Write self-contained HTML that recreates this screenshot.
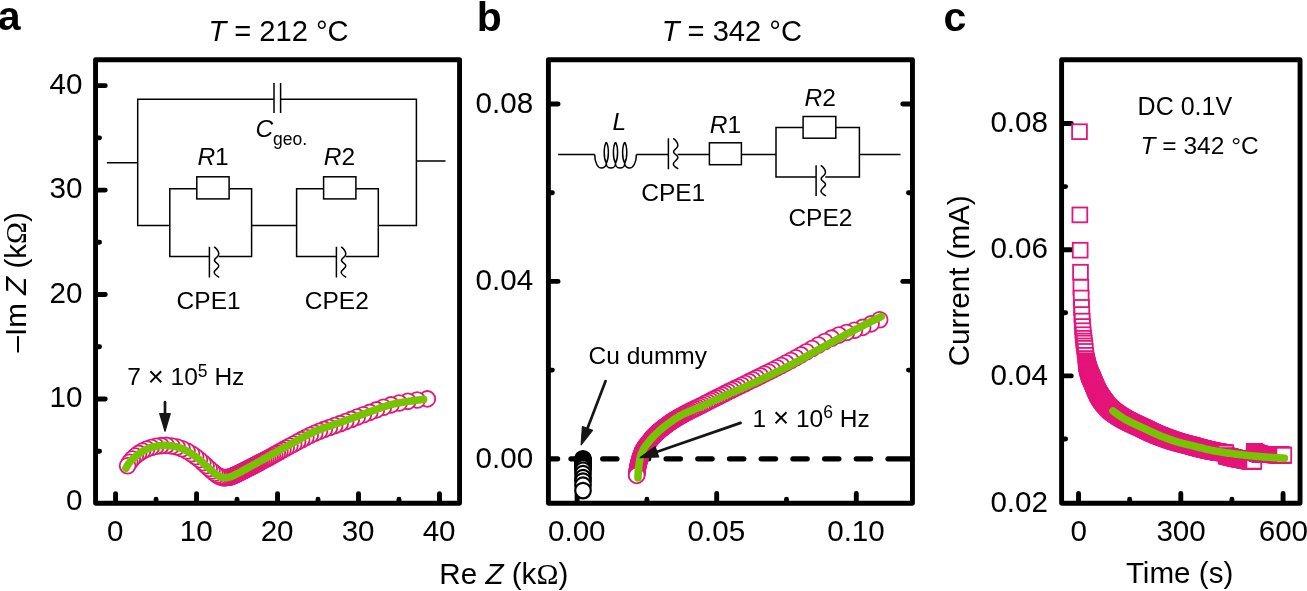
<!DOCTYPE html>
<html lang="en"><head><meta charset="utf-8"><title>Impedance spectra and DC polarisation</title>
<style>html,body{margin:0;padding:0;background:#fff}body{width:1307px;height:591px;overflow:hidden}svg{display:block;will-change:transform}</style>
</head><body>
<svg width="1307" height="591" viewBox="0 0 1307 591" font-family='"Liberation Sans", sans-serif' fill="#000">
<rect width="1307" height="591" fill="#fff"/>
<g id="panel-a">
<rect x="95.56" y="59.7" width="364.01" height="443.6" fill="none" stroke="#000" stroke-width="4.9" stroke-linejoin="round"/>
<path d="M115.57,502.7V493.6M196.55,502.7V493.6M277.53,502.7V493.6M358.51,502.7V493.6M439.49,502.7V493.6" fill="none" stroke="#000" stroke-width="4.9" stroke-linecap="round"/>
<path d="M156.06,502.7V499.3M237.04,502.7V499.3M318.02,502.7V499.3M399,502.7V499.3" fill="none" stroke="#000" stroke-width="4.9" stroke-linecap="round"/>
<path d="M96.16,398.96H105.26M96.16,294.52H105.26M96.16,190.08H105.26M96.16,85.64H105.26" fill="none" stroke="#000" stroke-width="4.9" stroke-linecap="round"/>
<path d="M96.16,451.18H99.56M96.16,346.74H99.56M96.16,242.3H99.56M96.16,137.86H99.56" fill="none" stroke="#000" stroke-width="4.9" stroke-linecap="round"/>
<g fill="#fff" stroke="#e5157b" stroke-width="1.8">
<circle cx="427.3" cy="398.9" r="7.9"/>
<circle cx="417.2" cy="399.99" r="7.9"/>
<circle cx="407.84" cy="401.34" r="7.9"/>
<circle cx="399.13" cy="402.95" r="7.9"/>
<circle cx="390.98" cy="404.88" r="7.9"/>
<circle cx="383.43" cy="407.29" r="7.9"/>
<circle cx="376.4" cy="409.9" r="7.9"/>
<circle cx="369.74" cy="412.39" r="7.9"/>
<circle cx="363.37" cy="414.77" r="7.9"/>
<circle cx="357.24" cy="417.12" r="7.9"/>
<circle cx="351.35" cy="419.41" r="7.9"/>
<circle cx="345.66" cy="421.6" r="7.9"/>
<circle cx="340.13" cy="423.66" r="7.9"/>
<circle cx="334.71" cy="425.61" r="7.9"/>
<circle cx="329.43" cy="427.5" r="7.9"/>
<circle cx="324.32" cy="429.38" r="7.9"/>
<circle cx="319.42" cy="431.28" r="7.9"/>
<circle cx="314.72" cy="433.24" r="7.9"/>
<circle cx="310.2" cy="435.3" r="7.9"/>
<circle cx="305.85" cy="437.47" r="7.9"/>
<circle cx="301.65" cy="439.67" r="7.9"/>
<circle cx="297.6" cy="441.87" r="7.9"/>
<circle cx="293.67" cy="444.02" r="7.9"/>
<circle cx="289.84" cy="446.08" r="7.9"/>
<circle cx="286.16" cy="448.08" r="7.9"/>
<circle cx="282.87" cy="449.89" r="7.9"/>
<circle cx="279.93" cy="451.52" r="7.9"/>
<circle cx="277.3" cy="452.99" r="7.9"/>
<circle cx="274.78" cy="454.39" r="7.9"/>
<circle cx="272.38" cy="455.72" r="7.9"/>
<circle cx="270.08" cy="456.99" r="7.9"/>
<circle cx="267.89" cy="458.18" r="7.9"/>
<circle cx="265.79" cy="459.31" r="7.9"/>
<circle cx="263.79" cy="460.38" r="7.9"/>
<circle cx="261.88" cy="461.39" r="7.9"/>
<circle cx="260.06" cy="462.36" r="7.9"/>
<circle cx="258.36" cy="463.25" r="7.9"/>
<circle cx="256.82" cy="464.06" r="7.9"/>
<circle cx="255.42" cy="464.79" r="7.9"/>
<circle cx="254.14" cy="465.46" r="7.9"/>
<circle cx="252.98" cy="466.06" r="7.9"/>
<circle cx="251.92" cy="466.6" r="7.9"/>
<circle cx="250.93" cy="467.11" r="7.9"/>
<circle cx="249.94" cy="467.61" r="7.9"/>
<circle cx="248.95" cy="468.12" r="7.9"/>
<circle cx="247.96" cy="468.62" r="7.9"/>
<circle cx="246.97" cy="469.12" r="7.9"/>
<circle cx="245.98" cy="469.63" r="7.9"/>
<circle cx="245" cy="470.14" r="7.9"/>
<circle cx="244.01" cy="470.64" r="7.9"/>
<circle cx="243.02" cy="471.15" r="7.9"/>
<circle cx="242.03" cy="471.65" r="7.9"/>
<circle cx="241.04" cy="472.15" r="7.9"/>
<circle cx="240.04" cy="472.64" r="7.9"/>
<circle cx="239.04" cy="473.12" r="7.9"/>
<circle cx="238.03" cy="473.59" r="7.9"/>
<circle cx="237.02" cy="474.05" r="7.9"/>
<circle cx="236.01" cy="474.5" r="7.9"/>
<circle cx="234.99" cy="474.95" r="7.9"/>
<circle cx="233.99" cy="475.42" r="7.9"/>
<circle cx="232.98" cy="475.89" r="7.9"/>
<circle cx="231.96" cy="476.32" r="7.9"/>
<circle cx="230.92" cy="476.71" r="7.9"/>
<circle cx="229.85" cy="477.03" r="7.9"/>
<circle cx="228.76" cy="477.24" r="7.9"/>
<circle cx="227.66" cy="477.4" r="7.9"/>
<circle cx="226.56" cy="477.54" r="7.9"/>
<circle cx="225.45" cy="477.64" r="7.9"/>
<circle cx="224.35" cy="477.69" r="7.9"/>
<circle cx="223.24" cy="477.64" r="7.9"/>
<circle cx="222.15" cy="477.4" r="7.9"/>
<circle cx="220.79" cy="476.93" r="7.9"/>
<circle cx="219.03" cy="476.19" r="7.9"/>
<circle cx="216.96" cy="474.96" r="7.9"/>
<circle cx="214.64" cy="473.19" r="7.9"/>
<circle cx="211.97" cy="471.04" r="7.9"/>
<circle cx="209.17" cy="468.49" r="7.9"/>
<circle cx="206.08" cy="465.67" r="7.9"/>
<circle cx="202.85" cy="462.67" r="7.9"/>
<circle cx="199.41" cy="459.63" r="7.9"/>
<circle cx="195.63" cy="456.66" r="7.9"/>
<circle cx="191.53" cy="453.75" r="7.9"/>
<circle cx="186.99" cy="451.07" r="7.9"/>
<circle cx="182.16" cy="448.74" r="7.9"/>
<circle cx="177.05" cy="447" r="7.9"/>
<circle cx="171.75" cy="445.93" r="7.9"/>
<circle cx="166.33" cy="445.41" r="7.9"/>
<circle cx="161.04" cy="445.66" r="7.9"/>
<circle cx="155.97" cy="446.31" r="7.9"/>
<circle cx="151.17" cy="447.46" r="7.9"/>
<circle cx="146.66" cy="449.02" r="7.9"/>
<circle cx="142.49" cy="451.03" r="7.9"/>
<circle cx="138.69" cy="453.41" r="7.9"/>
<circle cx="135.28" cy="456.11" r="7.9"/>
<circle cx="132.23" cy="459.06" r="7.9"/>
<circle cx="129.67" cy="462.31" r="7.9"/>
<circle cx="127.6" cy="465.8" r="7.9"/>
</g>
<path d="M125.9,468.2 L126.29,467.44 L126.69,466.7 L127.11,465.97 L127.55,465.25 L128,464.54 L128.47,463.86 L128.96,463.18 L129.45,462.53 L129.96,461.89 L130.49,461.26 L131.04,460.65 L131.62,460.06 L132.22,459.49 L132.84,458.92 L133.47,458.36 L134.12,457.82 L134.76,457.28 L135.41,456.74 L136.05,456.21 L136.69,455.68 L137.33,455.14 L137.98,454.61 L138.64,454.09 L139.3,453.58 L139.97,453.08 L140.65,452.6 L141.34,452.14 L142.04,451.7 L142.75,451.28 L143.47,450.85 L144.2,450.44 L144.93,450.03 L145.68,449.63 L146.43,449.25 L147.19,448.89 L147.96,448.55 L148.73,448.24 L149.5,447.96 L150.28,447.71 L151.07,447.48 L151.87,447.25 L152.68,447.03 L153.49,446.83 L154.31,446.64 L155.13,446.46 L155.96,446.31 L156.78,446.17 L157.6,446.05 L158.43,445.95 L159.25,445.85 L160.08,445.76 L160.91,445.67 L161.74,445.59 L162.58,445.52 L163.41,445.46 L164.24,445.42 L165.07,445.4 L165.91,445.4 L166.74,445.43 L167.57,445.47 L168.41,445.54 L169.24,445.62 L170.07,445.71 L170.9,445.81 L171.73,445.92 L172.55,446.04 L173.37,446.15 L174.18,446.3 L175,446.47 L175.81,446.66 L176.62,446.88 L177.43,447.11 L178.23,447.36 L179.03,447.62 L179.82,447.89 L180.6,448.16 L181.38,448.44 L182.15,448.74 L182.92,449.05 L183.68,449.39 L184.43,449.75 L185.19,450.12 L185.93,450.5 L186.68,450.9 L187.41,451.3 L188.14,451.72 L188.87,452.13 L189.58,452.55 L190.29,452.98 L191,453.41 L191.69,453.86 L192.39,454.32 L193.08,454.79 L193.76,455.27 L194.44,455.76 L195.11,456.26 L195.78,456.76 L196.44,457.27 L197.1,457.79 L197.76,458.31 L198.41,458.83 L199.06,459.35 L199.7,459.87 L200.33,460.41 L200.96,460.96 L201.58,461.51 L202.2,462.07 L202.81,462.63 L203.42,463.2 L204.03,463.77 L204.65,464.34 L205.26,464.91 L205.87,465.48 L206.49,466.04 L207.11,466.59 L207.72,467.15 L208.34,467.72 L208.95,468.29 L209.56,468.86 L210.18,469.42 L210.79,469.99 L211.41,470.55 L212.04,471.1 L212.67,471.63 L213.31,472.16 L213.96,472.67 L214.62,473.18 L215.29,473.71 L215.96,474.23 L216.64,474.73 L217.33,475.22 L218.04,475.66 L218.76,476.06 L219.49,476.4 L220.25,476.71 L221.04,477.03 L221.85,477.31 L222.66,477.54 L223.48,477.67 L224.3,477.7 L225.13,477.66 L225.97,477.6 L226.81,477.51 L227.64,477.4 L228.47,477.28 L229.27,477.15 L230.06,476.96 L230.84,476.71 L231.62,476.4 L232.38,476.06 L233.15,475.69 L233.9,475.3 L234.66,474.91 L235.41,474.52 L236.16,474.16 L236.91,473.8 L237.66,473.44 L238.4,473.06 L239.14,472.68 L239.88,472.29 L240.61,471.9 L241.35,471.5 L242.08,471.1 L242.81,470.7 L243.54,470.29 L244.27,469.89 L244.99,469.48 L245.72,469.07 L246.45,468.67 L247.18,468.27 L247.91,467.87 L248.65,467.47 L249.38,467.07 L250.11,466.67 L250.84,466.27 L251.57,465.87 L252.3,465.47 L253.03,465.07 L253.76,464.66 L254.49,464.26 L255.22,463.86 L255.94,463.45 L256.67,463.05 L257.4,462.64 L258.13,462.24 L258.86,461.83 L259.59,461.43 L260.31,461.02 L261.04,460.62 L261.77,460.21 L262.5,459.81 L263.23,459.4 L263.95,459 L264.68,458.59 L265.41,458.19 L266.14,457.78 L266.87,457.38 L267.6,456.97 L268.32,456.57 L269.05,456.16 L269.78,455.75 L270.5,455.35 L271.23,454.94 L271.96,454.53 L272.68,454.12 L273.41,453.72 L274.14,453.31 L274.86,452.9 L275.59,452.49 L276.32,452.08 L277.04,451.67 L277.77,451.27 L278.5,450.86 L279.22,450.45 L279.95,450.04 L280.68,449.64 L281.41,449.23 L282.13,448.83 L282.86,448.42 L283.59,448.02 L284.32,447.61 L285.05,447.21 L285.78,446.81 L286.51,446.4 L287.24,446 L287.97,445.6 L288.7,445.21 L289.43,444.81 L290.16,444.41 L290.9,444.01 L291.63,443.61 L292.36,443.21 L293.09,442.81 L293.82,442.4 L294.55,442 L295.28,441.59 L296.01,441.18 L296.74,440.77 L297.47,440.37 L298.2,439.96 L298.93,439.55 L299.66,439.15 L300.39,438.74 L301.13,438.34 L301.86,437.94 L302.59,437.54 L303.33,437.14 L304.06,436.75 L304.8,436.36 L305.54,435.97 L306.28,435.58 L307.02,435.2 L307.76,434.83 L308.5,434.46 L309.25,434.09 L310,433.73 L310.75,433.37 L311.5,433.02 L312.25,432.67 L313,432.33 L313.76,432 L314.52,431.67 L315.28,431.35 L316.05,431.03 L316.82,430.72 L317.59,430.41 L318.36,430.1 L319.13,429.8 L319.91,429.5 L320.68,429.21 L321.46,428.91 L322.24,428.62 L323.02,428.34 L323.8,428.05 L324.59,427.77 L325.37,427.49 L326.16,427.21 L326.95,426.94 L327.74,426.66 L328.52,426.39 L329.31,426.12 L330.1,425.85 L330.9,425.58 L331.69,425.31 L332.48,425.04 L333.27,424.78 L334.06,424.51 L334.85,424.24 L335.65,423.97 L336.44,423.71 L337.23,423.44 L338.02,423.17 L338.81,422.9 L339.6,422.63 L340.39,422.36 L341.18,422.09 L341.97,421.81 L342.76,421.53 L343.54,421.26 L344.33,420.98 L345.11,420.69 L345.89,420.41 L346.68,420.12 L347.46,419.84 L348.24,419.55 L349.03,419.27 L349.81,418.98 L350.59,418.69 L351.37,418.4 L352.15,418.11 L352.94,417.83 L353.72,417.54 L354.5,417.25 L355.28,416.96 L356.06,416.67 L356.84,416.38 L357.63,416.09 L358.41,415.81 L359.19,415.52 L359.97,415.23 L360.76,414.95 L361.54,414.66 L362.32,414.38 L363.11,414.09 L363.89,413.81 L364.67,413.53 L365.46,413.25 L366.24,412.97 L367.03,412.69 L367.81,412.42 L368.6,412.14 L369.39,411.87 L370.17,411.6 L370.96,411.32 L371.75,411.04 L372.53,410.76 L373.32,410.48 L374.11,410.2 L374.89,409.91 L375.68,409.62 L376.46,409.34 L377.25,409.05 L378.04,408.76 L378.82,408.48 L379.61,408.2 L380.4,407.91 L381.19,407.64 L381.98,407.36 L382.77,407.09 L383.56,406.82 L384.35,406.56 L385.14,406.3 L385.93,406.04 L386.73,405.8 L387.52,405.55 L388.32,405.32 L389.12,405.09 L389.92,404.87 L390.72,404.66 L391.52,404.46 L392.33,404.27 L393.13,404.09 L393.94,403.91 L394.75,403.74 L395.57,403.57 L396.38,403.41 L397.2,403.25 L398.02,403.09 L398.84,402.94 L399.66,402.8 L400.48,402.65 L401.3,402.51 L402.13,402.38 L402.95,402.24 L403.78,402.11 L404.6,401.98 L405.43,401.85 L406.25,401.72 L407.08,401.6 L407.91,401.47 L408.73,401.35 L409.55,401.23 L410.38,401.11 L411.2,400.99 L412.03,400.87 L412.85,400.75 L413.68,400.64 L414.5,400.52 L415.33,400.41 L416.15,400.3 L416.98,400.19 L417.81,400.09 L418.63,399.98 L419.46,399.88 L420.29,399.78 L421.12,399.68 L421.94,399.59 L422.77,399.49 L423.6,399.4" fill="none" stroke="#76c400" stroke-width="7.6" stroke-linecap="round" stroke-linejoin="round"/>
<text x="82.4" y="407.36" font-size="29.6" text-anchor="end" >10</text>
<text x="82.4" y="302.92" font-size="29.6" text-anchor="end" >20</text>
<text x="82.4" y="198.48" font-size="29.6" text-anchor="end" >30</text>
<text x="82.4" y="94.04" font-size="29.6" text-anchor="end" >40</text>
<text x="82.4" y="509.7" font-size="29.6" text-anchor="end" >0</text>
<text x="115.17" y="541.3" font-size="29.6" text-anchor="middle" >0</text>
<text x="196.15" y="541.3" font-size="29.6" text-anchor="middle" >10</text>
<text x="277.13" y="541.3" font-size="29.6" text-anchor="middle" >20</text>
<text x="358.11" y="541.3" font-size="29.6" text-anchor="middle" >30</text>
<text x="439.09" y="541.3" font-size="29.6" text-anchor="middle" >40</text>
<text x="-2.2" y="30.4" font-size="41" text-anchor="start" font-weight="bold">a</text>
<text x="278.5" y="41.3" font-size="29.1" text-anchor="middle" ><tspan font-style="italic">T</tspan> = 212 °C</text>
<text transform="translate(25.5,282.3) rotate(-90)" font-size="29.6" text-anchor="middle">–Im <tspan font-style="italic">Z</tspan> (k<tspan font-family='"Liberation Serif", serif'>Ω</tspan>)</text>
<text x="503.8" y="584" font-size="29.6" text-anchor="middle" >Re <tspan font-style="italic">Z</tspan> (k<tspan font-family='"Liberation Serif", serif'>Ω</tspan>)</text>
<path d="M106.9,162.7H137.7M274,99.2H137.7V225.6H169.8M280.6,99.2H416.4V225.6H378.3M416.4,161H445.5M274,83V113M280.6,83V113M196.8,188.8H169.8V256.5H209.4M229.1,188.8H251.6V256.5H218.6M209.4,246.7V277.5M251.6,225.6H296.6M323.6,188.8H296.6V256.5H336.4M355.9,188.8H378.3V256.5H345.6M336.4,246.7V277.5" fill="none" stroke="#000" stroke-width="1.5"/>
<rect x="196.8" y="176.8" width="32.3" height="22.1" fill="none" stroke="#000" stroke-width="1.5"/>
<rect x="323.6" y="176.8" width="32.3" height="22.1" fill="none" stroke="#000" stroke-width="1.5"/>
<path d="M214.1,246.8c2.9,2.2 5.4,5.2 4.4,8.2c-1,3 -4.5,3 -4,5.5c0.5,2.5 4.5,3 4.3,5.5c-0.3,2.5 -4.8,4 -4.6,6.5c0.3,2 2.8,3.5 5,4.8M341.1,246.8c2.9,2.2 5.4,5.2 4.4,8.2c-1,3 -4.5,3 -4,5.5c0.5,2.5 4.5,3 4.3,5.5c-0.3,2.5 -4.8,4 -4.6,6.5c0.3,2 2.8,3.5 5,4.8" fill="none" stroke="#000" stroke-width="1.5"/>
<text x="197.4" y="165" font-size="24.5" text-anchor="start" ><tspan font-style="italic">R</tspan>1</text>
<text x="323.8" y="165" font-size="24.5" text-anchor="start" ><tspan font-style="italic">R</tspan>2</text>
<text x="255.4" y="136.7" font-size="24.5" text-anchor="start" ><tspan font-style="italic">C</tspan><tspan font-size="17.5" dy="8.3">geo.</tspan></text>
<text x="176.6" y="309.1" font-size="24.5" text-anchor="start" >CPE1</text>
<text x="304.8" y="309.1" font-size="24.5" text-anchor="start" >CPE2</text>
<text x="127.3" y="385" font-size="24.5" text-anchor="start" >7 <tspan font-size="27.5" dy="0.8">×</tspan><tspan dy="-0.8"> 10</tspan><tspan font-size="17.5" dy="-8.3">5</tspan><tspan dy="8.3"> Hz</tspan></text>
<path d="M165,402.2V416" fill="none" stroke="#161616" stroke-width="2.7" stroke-linecap="round"/>
<path d="M159.7,413.6H170.3L165,431.3Z" fill="#161616" stroke="#161616" stroke-width="1.2" stroke-linejoin="round"/>
</g>
<g id="panel-b">
<rect x="548.4" y="59.7" width="364.05" height="443.55" fill="none" stroke="#000" stroke-width="4.9" stroke-linejoin="round"/>
<path d="M577.1,502.65V493.55M716.7,502.65V493.55M856.3,502.65V493.55" fill="none" stroke="#000" stroke-width="4.9" stroke-linecap="round"/>
<path d="M646.9,502.65V499.25M786.5,502.65V499.25" fill="none" stroke="#000" stroke-width="4.9" stroke-linecap="round"/>
<path d="M549,281.4H558.1M549,104H558.1" fill="none" stroke="#000" stroke-width="4.9" stroke-linecap="round"/>
<path d="M549,370.1H552.4M549,192.7H552.4" fill="none" stroke="#000" stroke-width="4.9" stroke-linecap="round"/>
<path d="M911.85,281.4H902.75M911.85,104H902.75" fill="none" stroke="#000" stroke-width="4.9" stroke-linecap="round"/>
<path d="M911.85,370.1H908.45M911.85,192.7H908.45" fill="none" stroke="#000" stroke-width="4.9" stroke-linecap="round"/>
<path d="M548.5,458.8H557.6M888,458.8H912" fill="none" stroke="#000" stroke-width="5.3" stroke-linecap="round"/>
<path d="M571,458.8H880" fill="none" stroke="#000" stroke-width="5.3" stroke-linecap="round" stroke-dasharray="14.3 17.4"/>
<g fill="#fff" stroke="#000" stroke-width="2.2">
<circle cx="583" cy="458.9" r="7.8"/>
<circle cx="583" cy="459.65" r="7.8"/>
<circle cx="583" cy="460.4" r="7.8"/>
<circle cx="583" cy="461.15" r="7.8"/>
<circle cx="583" cy="461.9" r="7.8"/>
<circle cx="583" cy="462.65" r="7.8"/>
<circle cx="583" cy="463.4" r="7.8"/>
<circle cx="583" cy="464.15" r="7.8"/>
<circle cx="583" cy="464.9" r="7.8"/>
<circle cx="583" cy="465.65" r="7.8"/>
<circle cx="583" cy="466.4" r="7.8"/>
<circle cx="583" cy="467.15" r="7.8"/>
<circle cx="583" cy="467.9" r="7.8"/>
<circle cx="583" cy="470.3" r="7.8"/>
<circle cx="583" cy="473.7" r="7.8"/>
<circle cx="583" cy="477.7" r="7.8"/>
<circle cx="583" cy="481.1" r="7.8"/>
<circle cx="583" cy="485.2" r="7.8"/>
<circle cx="583" cy="490.6" r="7.8"/>
</g>
<g fill="#fff" stroke="#e5157b" stroke-width="1.8">
<circle cx="879.7" cy="319.8" r="7.9"/>
<circle cx="871.08" cy="323.89" r="7.9"/>
<circle cx="862.68" cy="327.4" r="7.9"/>
<circle cx="854.49" cy="330.21" r="7.9"/>
<circle cx="846.45" cy="332.56" r="7.9"/>
<circle cx="838.75" cy="335.08" r="7.9"/>
<circle cx="831.54" cy="338.16" r="7.9"/>
<circle cx="824.77" cy="341.57" r="7.9"/>
<circle cx="818.34" cy="345.07" r="7.9"/>
<circle cx="812.14" cy="348.45" r="7.9"/>
<circle cx="806.37" cy="351.74" r="7.9"/>
<circle cx="800.98" cy="354.89" r="7.9"/>
<circle cx="795.85" cy="357.82" r="7.9"/>
<circle cx="790.86" cy="360.53" r="7.9"/>
<circle cx="786.05" cy="363.08" r="7.9"/>
<circle cx="781.41" cy="365.49" r="7.9"/>
<circle cx="776.94" cy="367.78" r="7.9"/>
<circle cx="772.64" cy="369.97" r="7.9"/>
<circle cx="768.51" cy="372.05" r="7.9"/>
<circle cx="764.47" cy="374.06" r="7.9"/>
<circle cx="760.5" cy="376.01" r="7.9"/>
<circle cx="756.59" cy="377.91" r="7.9"/>
<circle cx="752.74" cy="379.79" r="7.9"/>
<circle cx="748.97" cy="381.63" r="7.9"/>
<circle cx="745.27" cy="383.45" r="7.9"/>
<circle cx="741.63" cy="385.23" r="7.9"/>
<circle cx="738.1" cy="386.96" r="7.9"/>
<circle cx="734.67" cy="388.64" r="7.9"/>
<circle cx="731.34" cy="390.27" r="7.9"/>
<circle cx="728.11" cy="391.86" r="7.9"/>
<circle cx="724.98" cy="393.41" r="7.9"/>
<circle cx="721.93" cy="394.93" r="7.9"/>
<circle cx="718.95" cy="396.44" r="7.9"/>
<circle cx="716.02" cy="397.92" r="7.9"/>
<circle cx="713.16" cy="399.38" r="7.9"/>
<circle cx="710.36" cy="400.82" r="7.9"/>
<circle cx="707.62" cy="402.22" r="7.9"/>
<circle cx="704.93" cy="403.6" r="7.9"/>
<circle cx="702.28" cy="404.94" r="7.9"/>
<circle cx="699.71" cy="406.24" r="7.9"/>
<circle cx="697.22" cy="407.48" r="7.9"/>
<circle cx="694.81" cy="408.66" r="7.9"/>
<circle cx="692.48" cy="409.79" r="7.9"/>
<circle cx="690.27" cy="410.88" r="7.9"/>
<circle cx="688.24" cy="411.91" r="7.9"/>
<circle cx="686.36" cy="412.88" r="7.9"/>
<circle cx="684.63" cy="413.8" r="7.9"/>
<circle cx="683.04" cy="414.67" r="7.9"/>
<circle cx="681.57" cy="415.48" r="7.9"/>
<circle cx="680.19" cy="416.26" r="7.9"/>
<circle cx="678.89" cy="417" r="7.9"/>
<circle cx="677.65" cy="417.72" r="7.9"/>
<circle cx="676.49" cy="418.42" r="7.9"/>
<circle cx="675.38" cy="419.09" r="7.9"/>
<circle cx="674.34" cy="419.74" r="7.9"/>
<circle cx="673.35" cy="420.37" r="7.9"/>
<circle cx="672.42" cy="420.98" r="7.9"/>
<circle cx="671.53" cy="421.57" r="7.9"/>
<circle cx="670.7" cy="422.14" r="7.9"/>
<circle cx="669.86" cy="422.72" r="7.9"/>
<circle cx="669.04" cy="423.31" r="7.9"/>
<circle cx="668.22" cy="423.9" r="7.9"/>
<circle cx="667.4" cy="424.5" r="7.9"/>
<circle cx="666.59" cy="425.1" r="7.9"/>
<circle cx="665.78" cy="425.71" r="7.9"/>
<circle cx="664.97" cy="426.33" r="7.9"/>
<circle cx="664.17" cy="426.95" r="7.9"/>
<circle cx="663.38" cy="427.58" r="7.9"/>
<circle cx="662.58" cy="428.21" r="7.9"/>
<circle cx="661.79" cy="428.84" r="7.9"/>
<circle cx="661" cy="429.47" r="7.9"/>
<circle cx="660.22" cy="430.11" r="7.9"/>
<circle cx="659.44" cy="430.76" r="7.9"/>
<circle cx="658.66" cy="431.42" r="7.9"/>
<circle cx="657.9" cy="432.08" r="7.9"/>
<circle cx="657.14" cy="432.76" r="7.9"/>
<circle cx="656.4" cy="433.44" r="7.9"/>
<circle cx="655.67" cy="434.14" r="7.9"/>
<circle cx="654.95" cy="434.86" r="7.9"/>
<circle cx="654.24" cy="435.58" r="7.9"/>
<circle cx="653.55" cy="436.33" r="7.9"/>
<circle cx="652.87" cy="437.08" r="7.9"/>
<circle cx="652.21" cy="437.84" r="7.9"/>
<circle cx="651.56" cy="438.62" r="7.9"/>
<circle cx="650.91" cy="439.4" r="7.9"/>
<circle cx="650.27" cy="440.19" r="7.9"/>
<circle cx="649.64" cy="440.98" r="7.9"/>
<circle cx="649.01" cy="441.77" r="7.9"/>
<circle cx="648.39" cy="442.57" r="7.9"/>
<circle cx="647.75" cy="443.36" r="7.9"/>
<circle cx="647.12" cy="444.15" r="7.9"/>
<circle cx="646.49" cy="444.94" r="7.9"/>
<circle cx="645.86" cy="445.74" r="7.9"/>
<circle cx="645.26" cy="446.55" r="7.9"/>
<circle cx="644.67" cy="447.38" r="7.9"/>
<circle cx="644.12" cy="448.23" r="7.9"/>
<circle cx="643.61" cy="449.11" r="7.9"/>
<circle cx="643.15" cy="450.01" r="7.9"/>
<circle cx="642.71" cy="450.92" r="7.9"/>
<circle cx="642.29" cy="451.84" r="7.9"/>
<circle cx="641.9" cy="452.78" r="7.9"/>
<circle cx="641.53" cy="453.72" r="7.9"/>
<circle cx="641.17" cy="454.67" r="7.9"/>
<circle cx="640.83" cy="455.62" r="7.9"/>
<circle cx="640.5" cy="456.58" r="7.9"/>
<circle cx="640.19" cy="457.55" r="7.9"/>
<circle cx="639.89" cy="458.51" r="7.9"/>
<circle cx="639.6" cy="459.48" r="7.9"/>
<circle cx="639.33" cy="460.46" r="7.9"/>
<circle cx="639.06" cy="461.44" r="7.9"/>
<circle cx="638.8" cy="462.41" r="7.9"/>
<circle cx="638.55" cy="463.4" r="7.9"/>
<circle cx="638.31" cy="464.38" r="7.9"/>
<circle cx="638.09" cy="465.37" r="7.9"/>
<circle cx="637.89" cy="466.36" r="7.9"/>
<circle cx="637.71" cy="467.36" r="7.9"/>
<circle cx="637.54" cy="468.36" r="7.9"/>
<circle cx="637.39" cy="469.36" r="7.9"/>
<circle cx="637.25" cy="470.36" r="7.9"/>
<circle cx="637.11" cy="471.37" r="7.9"/>
<circle cx="636.99" cy="472.37" r="7.9"/>
<circle cx="636.88" cy="473.38" r="7.9"/>
<circle cx="636.78" cy="474.39" r="7.9"/>
<circle cx="636.7" cy="475.4" r="7.9"/>
</g>
<path d="M638,477.9 L638.02,477.14 L638.04,476.37 L638.07,475.61 L638.1,474.85 L638.14,474.09 L638.19,473.33 L638.24,472.57 L638.29,471.81 L638.34,471.05 L638.4,470.29 L638.46,469.54 L638.52,468.78 L638.58,468.02 L638.66,467.26 L638.74,466.5 L638.82,465.74 L638.92,464.98 L639.02,464.22 L639.12,463.46 L639.24,462.71 L639.36,461.95 L639.48,461.2 L639.62,460.46 L639.76,459.71 L639.9,458.98 L640.07,458.24 L640.25,457.51 L640.45,456.77 L640.67,456.03 L640.91,455.3 L641.17,454.57 L641.44,453.85 L641.72,453.13 L642.01,452.42 L642.31,451.72 L642.63,451.02 L642.94,450.34 L643.27,449.66 L643.61,449 L643.98,448.35 L644.38,447.71 L644.8,447.07 L645.23,446.44 L645.69,445.82 L646.15,445.21 L646.62,444.6 L647.1,443.99 L647.58,443.39 L648.05,442.79 L648.52,442.19 L649,441.6 L649.48,441.02 L649.97,440.43 L650.47,439.85 L650.97,439.28 L651.48,438.71 L651.99,438.14 L652.51,437.58 L653.03,437.02 L653.55,436.47 L654.07,435.92 L654.6,435.38 L655.14,434.83 L655.67,434.29 L656.21,433.76 L656.76,433.22 L657.31,432.69 L657.86,432.17 L658.42,431.64 L658.98,431.13 L659.54,430.61 L660.11,430.11 L660.68,429.6 L661.26,429.11 L661.83,428.62 L662.42,428.13 L663.01,427.65 L663.6,427.17 L664.2,426.7 L664.8,426.23 L665.4,425.76 L666.01,425.3 L666.62,424.84 L667.23,424.39 L667.85,423.94 L668.46,423.49 L669.08,423.05 L669.7,422.61 L670.33,422.17 L670.95,421.73 L671.57,421.3 L672.2,420.86 L672.83,420.43 L673.46,419.99 L674.09,419.56 L674.73,419.13 L675.36,418.71 L676,418.29 L676.64,417.88 L677.29,417.47 L677.94,417.07 L678.59,416.68 L679.24,416.29 L679.9,415.91 L680.56,415.55 L681.22,415.19 L681.89,414.84 L682.57,414.49 L683.24,414.16 L683.93,413.83 L684.61,413.51 L685.3,413.19 L685.99,412.88 L686.69,412.57 L687.39,412.26 L688.09,411.96 L688.79,411.67 L689.49,411.37 L690.2,411.08 L690.9,410.79 L691.61,410.5 L692.32,410.21 L693.03,409.93 L693.74,409.64 L694.45,409.35 L695.15,409.06 L695.86,408.77 L696.57,408.48 L697.27,408.18 L697.97,407.88 L698.67,407.58 L699.37,407.28 L700.07,406.97 L700.76,406.66 L701.46,406.34 L702.15,406.03 L702.84,405.72 L703.54,405.4 L704.23,405.08 L704.92,404.77 L705.61,404.45 L706.31,404.13 L707,403.81 L707.69,403.49 L708.38,403.17 L709.07,402.85 L709.76,402.53 L710.45,402.21 L711.14,401.88 L711.83,401.56 L712.52,401.24 L713.21,400.92 L713.9,400.6 L714.59,400.28 L715.28,399.96 L715.98,399.64 L716.67,399.32 L717.36,399.01 L718.05,398.69 L718.74,398.37 L719.44,398.06 L720.13,397.74 L720.82,397.43 L721.52,397.12 L722.21,396.8 L722.91,396.5 L723.6,396.19 L724.3,395.88 L725,395.57 L725.7,395.27 L726.39,394.96 L727.09,394.66 L727.79,394.36 L728.49,394.06 L729.19,393.75 L729.89,393.45 L730.59,393.15 L731.29,392.85 L731.99,392.55 L732.69,392.25 L733.39,391.95 L734.09,391.65 L734.79,391.35 L735.49,391.06 L736.19,390.76 L736.89,390.46 L737.59,390.16 L738.29,389.85 L738.99,389.55 L739.69,389.25 L740.39,388.95 L741.08,388.65 L741.78,388.34 L742.48,388.04 L743.18,387.73 L743.87,387.43 L744.57,387.12 L745.27,386.81 L745.96,386.5 L746.66,386.19 L747.35,385.87 L748.04,385.56 L748.74,385.24 L749.43,384.93 L750.12,384.61 L750.81,384.29 L751.5,383.97 L752.19,383.65 L752.89,383.33 L753.58,383.01 L754.27,382.69 L754.96,382.37 L755.65,382.05 L756.34,381.72 L757.03,381.4 L757.71,381.08 L758.4,380.75 L759.09,380.43 L759.78,380.1 L760.47,379.77 L761.15,379.45 L761.84,379.12 L762.53,378.79 L763.22,378.46 L763.9,378.13 L764.59,377.8 L765.28,377.48 L765.96,377.15 L766.65,376.82 L767.34,376.49 L768.02,376.15 L768.71,375.82 L769.39,375.49 L770.08,375.16 L770.76,374.83 L771.45,374.5 L772.14,374.17 L772.82,373.84 L773.51,373.51 L774.19,373.18 L774.88,372.84 L775.56,372.51 L776.25,372.18 L776.94,371.85 L777.62,371.51 L778.31,371.18 L778.99,370.85 L779.67,370.51 L780.36,370.18 L781.04,369.84 L781.73,369.51 L782.41,369.17 L783.09,368.83 L783.77,368.49 L784.46,368.15 L785.14,367.81 L785.82,367.47 L786.5,367.13 L787.18,366.79 L787.86,366.44 L788.53,366.1 L789.21,365.75 L789.89,365.4 L790.56,365.05 L791.24,364.7 L791.91,364.35 L792.59,363.99 L793.26,363.64 L793.93,363.28 L794.6,362.92 L795.27,362.55 L795.94,362.19 L796.6,361.82 L797.27,361.46 L797.94,361.09 L798.6,360.72 L799.27,360.35 L799.93,359.97 L800.59,359.6 L801.26,359.23 L801.92,358.85 L802.58,358.48 L803.25,358.1 L803.91,357.73 L804.57,357.35 L805.23,356.97 L805.9,356.6 L806.56,356.22 L807.22,355.84 L807.88,355.47 L808.54,355.09 L809.21,354.72 L809.87,354.34 L810.53,353.97 L811.2,353.59 L811.86,353.22 L812.53,352.85 L813.19,352.48 L813.86,352.11 L814.53,351.74 L815.19,351.38 L815.86,351.01 L816.52,350.64 L817.19,350.27 L817.86,349.9 L818.52,349.53 L819.19,349.17 L819.86,348.8 L820.52,348.43 L821.19,348.06 L821.86,347.69 L822.52,347.33 L823.19,346.96 L823.86,346.59 L824.52,346.22 L825.19,345.86 L825.86,345.49 L826.53,345.12 L827.19,344.76 L827.86,344.39 L828.53,344.03 L829.2,343.66 L829.87,343.3 L830.53,342.93 L831.2,342.57 L831.87,342.2 L832.54,341.84 L833.21,341.47 L833.88,341.11 L834.55,340.75 L835.21,340.38 L835.88,340.02 L836.55,339.66 L837.22,339.3 L837.89,338.93 L838.56,338.57 L839.23,338.21 L839.9,337.85 L840.57,337.49 L841.24,337.12 L841.91,336.76 L842.58,336.4 L843.25,336.04 L843.92,335.68 L844.6,335.32 L845.27,334.96 L845.94,334.6 L846.61,334.24 L847.28,333.88 L847.95,333.52 L848.62,333.16 L849.29,332.8 L849.96,332.44 L850.64,332.08 L851.31,331.72 L851.98,331.37 L852.65,331.01 L853.33,330.65 L854,330.3 L854.67,329.94 L855.35,329.59 L856.02,329.24 L856.7,328.88 L857.37,328.53 L858.05,328.18 L858.72,327.83 L859.4,327.48 L860.07,327.13 L860.75,326.78 L861.43,326.43 L862.11,326.08 L862.78,325.74 L863.46,325.39 L864.14,325.05 L864.82,324.7 L865.5,324.36 L866.18,324.01 L866.86,323.67 L867.54,323.33 L868.22,322.99 L868.9,322.65 L869.58,322.3 L870.26,321.96 L870.94,321.62 L871.62,321.29 L872.31,320.95 L872.99,320.61 L873.67,320.27 L874.35,319.94 L875.04,319.6 L875.72,319.26 L876.4,318.93 L877.09,318.59 L877.77,318.26 L878.46,317.93 L879.14,317.59 L879.83,317.26 L880.51,316.93 L881.2,316.6" fill="none" stroke="#76c400" stroke-width="7.6" stroke-linecap="round" stroke-linejoin="round"/>
<text x="533.2" y="467.6" font-size="29.6" text-anchor="end" >0.00</text>
<text x="533.2" y="290.2" font-size="29.6" text-anchor="end" >0.04</text>
<text x="533.2" y="112.8" font-size="29.6" text-anchor="end" >0.08</text>
<text x="576.8" y="541" font-size="29.6" text-anchor="middle" >0.00</text>
<text x="716.4" y="541" font-size="29.6" text-anchor="middle" >0.05</text>
<text x="856" y="541" font-size="29.6" text-anchor="middle" >0.10</text>
<text x="476.8" y="30.6" font-size="41" text-anchor="start" font-weight="bold">b</text>
<text x="731.8" y="41.3" font-size="29.1" text-anchor="middle" ><tspan font-style="italic">T</tspan> = 342 °C</text>
<path d="M558.1,154.5H594.7M594.7,154.5C594.7,163 598,168.1 601.4,168.1C604,168.1 606.3,166 606.3,163.5M606.3,163.5C606.3,166 608.3,168.1 610.9,168.1C613.5,168.1 615.5,166 615.5,163.5M615.5,163.5C615.5,166 617.5,168.1 620.1,168.1C622.7,168.1 624.7,166 624.7,163.5M624.7,163.5C624.7,166 627,168.1 629.6,168.1C633,168.1 636.4,163 636.4,154.5M606.3,142.2C603.5,147 603.5,158 606.3,163.5C609.1,158 609.1,147 606.3,142.2M615.5,142.2C612.7,147 612.7,158 615.5,163.5C618.3,158 618.3,147 615.5,142.2M624.7,142.2C621.9,147 621.9,158 624.7,163.5C627.5,158 627.5,147 624.7,142.2M636.4,154.5H668.4M668.4,138.3V169.2M677.6,154.5H709.4M741.4,154.5H776M803.1,127.4H776V176.9H816.1M835.8,127.4H859.4V176.9H825.3M816.1,165.3V196M859.4,154.5H900.5" fill="none" stroke="#000" stroke-width="1.5"/>
<rect x="709.4" y="142.8" width="32" height="21.9" fill="none" stroke="#000" stroke-width="1.5"/>
<rect x="803.1" y="116.5" width="32.7" height="21.7" fill="none" stroke="#000" stroke-width="1.5"/>
<path d="M673.2,138.4c2.9,2.2 5.4,5.2 4.4,8.2c-1,3 -4.5,3 -4,5.5c0.5,2.5 4.5,3 4.3,5.5c-0.3,2.5 -4.8,4 -4.6,6.5c0.3,2 2.8,3.5 5,4.8M820.8,165.4c2.9,2.2 5.4,5.2 4.4,8.2c-1,3 -4.5,3 -4,5.5c0.5,2.5 4.5,3 4.3,5.5c-0.3,2.5 -4.8,4 -4.6,6.5c0.3,2 2.8,3.5 5,4.8" fill="none" stroke="#000" stroke-width="1.5"/>
<text x="612.6" y="129.6" font-size="24.5" text-anchor="start" ><tspan font-style="italic">L</tspan></text>
<text x="709.8" y="133" font-size="24.5" text-anchor="start" ><tspan font-style="italic">R</tspan>1</text>
<text x="804.6" y="105.7" font-size="24.5" text-anchor="start" ><tspan font-style="italic">R</tspan>2</text>
<text x="641.2" y="200.7" font-size="24.5" text-anchor="start" >CPE1</text>
<text x="788.4" y="226.2" font-size="24.5" text-anchor="start" >CPE2</text>
<text x="588.5" y="363.7" font-size="24.5" text-anchor="start" >Cu dummy</text>
<path d="M605.6,381.1L586.74,430.28" fill="none" stroke="#161616" stroke-width="2.7" stroke-linecap="round"/>
<path d="M581.15,444.85L582.41,426.48L592.5,430.35Z" fill="#161616" stroke="#161616" stroke-width="1.2" stroke-linejoin="round"/>
<path d="M740.6,422.9L655.01,452.48" fill="none" stroke="#161616" stroke-width="2.7" stroke-linecap="round"/>
<path d="M640.26,457.57L655.13,446.72L658.66,456.93Z" fill="#161616" stroke="#161616" stroke-width="1.2" stroke-linejoin="round"/>
<text x="752.6" y="426.5" font-size="24.5" text-anchor="start" >1 <tspan font-size="27.5" dy="0.8">×</tspan><tspan dy="-0.8"> 10</tspan><tspan font-size="17.5" dy="-8.3">6</tspan><tspan dy="8.3"> Hz</tspan></text>
</g>
<g id="panel-c">
<rect x="1061.6" y="59.8" width="238.45" height="443.4" fill="none" stroke="#000" stroke-width="4.9" stroke-linejoin="round"/>
<path d="M1078.53,502.6V493.5M1180.8,502.6V493.5M1283.07,502.6V493.5" fill="none" stroke="#000" stroke-width="4.9" stroke-linecap="round"/>
<path d="M1129.66,502.6V499.2M1231.93,502.6V499.2" fill="none" stroke="#000" stroke-width="4.9" stroke-linecap="round"/>
<path d="M1062.2,375.9H1071.3M1062.2,249.7H1071.3M1062.2,123.5H1071.3" fill="none" stroke="#000" stroke-width="4.9" stroke-linecap="round"/>
<path d="M1062.2,439H1065.6M1062.2,312.8H1065.6M1062.2,186.6H1065.6" fill="none" stroke="#000" stroke-width="4.9" stroke-linecap="round"/>
<defs><marker id="sq" markerUnits="userSpaceOnUse" markerWidth="20" markerHeight="20" refX="10" refY="10" overflow="visible"><rect x="2.6" y="2.6" width="14.8" height="14.8" fill="#fff" stroke="#e5157b" stroke-width="1.8"/></marker></defs>
<polyline fill="none" stroke="none" marker-start="url(#sq)" marker-mid="url(#sq)" marker-end="url(#sq)" points="1079.5,131.7 1079.85,214.9 1080.2,250.2 1080.5,272.2 1080.85,287.3 1081.2,298 1081.5,307.4 1081.85,314.5 1082.2,321.1 1082.5,326.5 1082.9,330.7 1083.2,334.7 1083.55,338.3 1083.9,341 1084.2,343.1 1084.6,345.9 1084.9,348.3 1085.25,351.4 1085.6,355.3 1085.95,358.5 1086.29,360.66 1086.43,361.48 1086.57,362.27 1086.71,363.02 1086.85,363.74 1086.99,364.44 1087.13,365.1 1087.27,365.74 1087.41,366.35 1087.55,366.94 1087.69,367.51 1087.83,368.07 1087.97,368.6 1088.11,369.12 1088.25,369.62 1088.39,370.12 1088.53,370.6 1088.67,371.07 1088.81,371.54 1088.95,371.99 1089.09,372.41 1089.23,372.81 1089.37,373.2 1089.51,373.57 1089.65,373.93 1089.79,374.28 1089.93,374.63 1090.07,374.98 1090.21,375.32 1090.35,375.66 1090.49,375.98 1090.63,376.3 1090.77,376.62 1090.91,376.93 1091.05,377.24 1091.19,377.55 1091.33,377.86 1091.47,378.16 1091.61,378.47 1091.75,378.78 1091.89,379.09 1092.03,379.41 1092.17,379.73 1092.31,380.06 1092.45,380.39 1092.59,380.73 1092.73,381.07 1092.87,381.4 1093.01,381.75 1093.15,382.09 1093.29,382.43 1093.43,382.78 1093.57,383.12 1093.71,383.46 1093.85,383.81 1093.99,384.15 1094.13,384.49 1094.27,384.83 1094.41,385.17 1094.55,385.51 1094.69,385.84 1094.83,386.18 1094.97,386.5 1095.11,386.83 1095.25,387.15 1095.39,387.48 1095.53,387.8 1095.67,388.13 1095.81,388.46 1095.95,388.78 1096.09,389.11 1096.23,389.43 1096.37,389.76 1096.51,390.08 1096.65,390.39 1096.79,390.71 1096.93,391.02 1097.07,391.32 1097.21,391.62 1097.35,391.92 1097.49,392.21 1097.63,392.49 1097.77,392.77 1097.91,393.04 1098.05,393.3 1098.19,393.55 1098.33,393.81 1098.47,394.06 1098.61,394.31 1098.75,394.55 1098.89,394.79 1099.03,395.03 1099.17,395.27 1099.31,395.51 1099.45,395.74 1099.59,395.97 1099.73,396.2 1099.87,396.42 1100.01,396.64 1100.15,396.86 1100.29,397.08 1100.43,397.3 1100.57,397.51 1100.71,397.72 1100.85,397.93 1100.99,398.14 1101.13,398.34 1101.27,398.55 1101.41,398.75 1101.55,398.95 1101.69,399.15 1101.83,399.35 1101.97,399.54 1102.11,399.73 1102.25,399.93 1102.39,400.12 1102.53,400.31 1102.67,400.5 1102.81,400.68 1102.95,400.87 1103.09,401.06 1103.23,401.24 1103.37,401.43 1103.51,401.61 1103.65,401.8 1103.79,401.98 1103.93,402.16 1104.07,402.34 1104.21,402.52 1104.35,402.7 1104.49,402.88 1104.63,403.05 1104.77,403.23 1104.91,403.41 1105.05,403.58 1105.39,404 1105.74,404.42 1106.08,404.83 1106.42,405.23 1106.76,405.63 1107.1,406.02 1107.45,406.4 1107.79,406.78 1108.13,407.15 1108.47,407.51 1108.81,407.86 1109.16,408.21 1109.5,408.54 1109.84,408.87 1110.18,409.19 1110.52,409.5 1110.87,409.81 1111.21,410.11 1111.55,410.4 1111.89,410.69 1112.23,410.97 1112.58,411.25 1112.92,411.52 1113.26,411.78 1113.6,412.05 1113.94,412.31 1114.29,412.56 1114.63,412.81 1114.97,413.06 1115.31,413.3 1115.65,413.54 1116,413.78 1116.34,414.02 1116.68,414.25 1117.02,414.48 1117.36,414.71 1117.71,414.94 1118.05,415.17 1118.39,415.39 1118.73,415.62 1119.07,415.84 1119.42,416.06 1119.76,416.28 1120.1,416.49 1120.44,416.71 1120.78,416.92 1121.13,417.13 1121.47,417.34 1121.81,417.54 1122.15,417.75 1122.49,417.95 1122.84,418.15 1123.18,418.35 1123.52,418.55 1123.86,418.74 1124.2,418.94 1124.55,419.13 1124.89,419.32 1125.23,419.51 1125.57,419.7 1125.91,419.88 1126.26,420.07 1126.6,420.26 1126.94,420.44 1127.28,420.62 1127.62,420.8 1127.97,420.98 1128.31,421.16 1128.65,421.34 1128.99,421.51 1129.33,421.68 1129.68,421.85 1130.02,422.02 1130.36,422.19 1130.7,422.35 1131.04,422.52 1131.39,422.68 1131.73,422.84 1132.07,423.01 1132.41,423.17 1132.75,423.33 1133.1,423.49 1133.44,423.64 1133.78,423.8 1134.12,423.96 1134.46,424.12 1134.81,424.28 1135.15,424.44 1135.49,424.6 1135.83,424.76 1136.17,424.92 1136.52,425.08 1136.86,425.24 1137.2,425.4 1137.54,425.56 1137.88,425.72 1138.23,425.87 1138.57,426.03 1138.91,426.19 1139.25,426.34 1139.59,426.5 1139.94,426.65 1140.28,426.81 1140.62,426.97 1140.96,427.12 1141.3,427.28 1141.65,427.44 1141.99,427.6 1142.33,427.76 1142.67,427.92 1143.01,428.08 1143.36,428.24 1143.7,428.4 1144.04,428.56 1144.38,428.73 1144.72,428.89 1145.07,429.06 1145.41,429.23 1145.75,429.4 1146.09,429.57 1146.43,429.74 1146.78,429.91 1147.12,430.08 1147.46,430.25 1147.8,430.42 1148.14,430.59 1148.49,430.76 1148.83,430.93 1149.17,431.1 1149.51,431.26 1149.85,431.43 1150.2,431.6 1150.54,431.76 1150.88,431.92 1151.22,432.08 1151.56,432.24 1151.91,432.39 1152.25,432.55 1152.59,432.7 1152.93,432.86 1153.27,433.01 1153.62,433.16 1153.96,433.31 1154.3,433.46 1154.64,433.61 1154.98,433.76 1155.33,433.91 1155.67,434.05 1156.01,434.2 1156.35,434.35 1156.69,434.49 1157.04,434.63 1157.38,434.78 1157.72,434.92 1158.06,435.06 1158.4,435.2 1158.75,435.34 1159.09,435.47 1159.43,435.61 1159.77,435.75 1160.11,435.88 1160.46,436.02 1160.8,436.15 1161.14,436.29 1161.48,436.42 1161.82,436.55 1162.17,436.68 1162.51,436.81 1162.85,436.94 1163.19,437.07 1163.53,437.19 1163.88,437.32 1164.22,437.45 1164.56,437.57 1164.9,437.7 1165.24,437.82 1165.59,437.95 1165.93,438.07 1166.27,438.2 1166.61,438.32 1166.95,438.44 1167.3,438.56 1167.64,438.68 1167.98,438.81 1168.32,438.93 1168.66,439.05 1169.01,439.17 1169.35,439.29 1169.69,439.41 1170.03,439.53 1170.37,439.64 1170.72,439.76 1171.06,439.88 1171.4,440 1171.74,440.11 1172.08,440.23 1172.43,440.34 1172.77,440.46 1173.11,440.57 1173.45,440.68 1173.79,440.79 1174.14,440.9 1174.48,441.01 1174.82,441.12 1175.16,441.23 1175.5,441.33 1175.85,441.44 1176.19,441.54 1176.53,441.64 1176.87,441.75 1177.21,441.85 1177.56,441.95 1177.9,442.05 1178.24,442.15 1178.58,442.25 1178.92,442.34 1179.27,442.44 1179.61,442.54 1179.95,442.63 1180.29,442.73 1180.63,442.82 1180.98,442.92 1181.32,443.01 1181.66,443.11 1182,443.2 1182.34,443.29 1182.69,443.39 1183.03,443.48 1183.37,443.57 1183.71,443.66 1184.05,443.76 1184.4,443.85 1184.74,443.93 1185.08,444.02 1185.42,444.11 1185.76,444.2 1186.11,444.29 1186.45,444.37 1186.79,444.46 1187.13,444.55 1187.47,444.63 1187.82,444.72 1188.16,444.8 1188.5,444.89 1188.84,444.98 1189.18,445.06 1189.53,445.15 1189.87,445.24 1190.21,445.33 1190.55,445.42 1190.89,445.51 1191.24,445.6 1191.58,445.69 1191.92,445.78 1192.26,445.87 1192.6,445.97 1192.95,446.06 1193.29,446.16 1193.63,446.26 1193.97,446.35 1194.31,446.45 1194.66,446.55 1195,446.65 1195.34,446.75 1195.68,446.85 1196.02,446.95 1196.37,447.05 1196.71,447.15 1197.05,447.25 1197.39,447.35 1197.73,447.44 1198.08,447.54 1198.42,447.64 1198.76,447.73 1199.1,447.82 1199.44,447.91 1199.79,448 1200.13,448.09 1200.47,448.18 1200.81,448.27 1201.15,448.35 1201.5,448.44 1201.84,448.53 1202.18,448.61 1202.52,448.7 1202.86,448.79 1203.21,448.87 1203.55,448.95 1203.89,449.04 1204.23,449.12 1204.57,449.2 1204.92,449.29 1205.26,449.37 1205.6,449.45 1205.94,449.53 1206.28,449.61 1206.63,449.69 1206.97,449.77 1207.31,449.84 1207.65,449.92 1207.99,450 1208.34,450.08 1208.68,450.15 1209.02,450.23 1209.36,450.31 1209.7,450.38 1210.05,450.46 1210.39,450.53 1210.73,450.61 1211.07,450.68 1211.41,450.76 1211.76,450.83 1212.1,450.91 1212.44,450.98 1212.78,451.05 1213.12,451.12 1213.47,451.19 1213.81,451.25 1214.15,451.32 1214.49,451.38 1214.83,451.45 1215.18,451.51 1215.52,451.57 1215.86,451.63 1216.2,451.68 1216.54,451.74 1216.89,451.8 1217.23,451.85 1217.57,451.91 1217.91,451.96 1218.25,452.02 1218.6,452.07 1218.94,452.13 1219.28,452.18 1219.62,452.23 1219.96,452.28 1220.31,452.33 1220.65,452.38 1220.99,452.43 1221.33,452.48 1221.67,452.52 1222.02,452.57 1222.36,452.62 1222.7,452.66 1223.04,452.7 1223.38,452.75 1223.73,452.79 1224.07,452.83 1224.41,452.87 1224.75,452.91 1225.09,452.95 1225.44,452.98 1225.78,453.02 1226.12,455.86 1226.46,455.94 1226.8,456.03 1227.15,456.12 1227.49,456.21 1227.83,456.3 1228.17,456.38 1228.51,456.47 1228.86,456.56 1229.2,456.65 1229.54,456.74 1229.88,456.83 1230.22,456.91 1230.57,457 1230.91,457.09 1231.25,457.18 1231.59,457.27 1231.93,457.35 1232.28,457.44 1232.62,457.53 1232.96,457.62 1233.3,457.71 1233.64,457.79 1233.99,457.88 1234.33,457.97 1234.67,458.06 1235.01,458.15 1235.35,458.23 1235.7,458.32 1236.04,458.41 1236.38,458.47 1236.72,458.54 1237.06,458.6 1237.41,458.67 1237.75,458.74 1238.09,458.8 1238.43,458.87 1238.77,458.93 1239.12,459 1239.46,459.07 1239.8,459.13 1240.14,459.2 1240.48,459.26 1240.83,459.33 1241.17,459.4 1241.51,459.46 1241.85,459.53 1242.19,459.59 1242.54,459.66 1242.88,459.72 1243.22,459.79 1243.56,459.86 1243.9,459.92 1244.25,459.99 1244.59,460.05 1244.93,460.12 1245.27,460.19 1245.61,460.25 1245.96,460.32 1246.3,460.38 1246.64,460.45 1246.98,460.52 1247.32,460.58 1247.67,460.65 1248.01,460.71 1248.35,460.78 1248.69,460.84 1249.03,460.91 1249.38,460.98 1249.72,461.01 1250.06,461.03 1250.4,461.04 1250.74,461.06 1251.09,461.07 1251.43,461.09 1251.77,461.1 1252.11,461.12 1252.45,461.13 1252.8,461.15 1253.14,461.17 1253.48,461.18 1253.82,461.2 1254.16,451.3 1254.51,451.52 1254.85,451.77 1255.19,452.02 1255.53,452.26 1255.87,452.51 1256.22,452.71 1256.56,452.88 1256.9,453.05 1257.24,453.22 1257.58,453.39 1257.93,453.56 1258.27,453.66 1258.61,453.74 1258.95,453.82 1259.29,453.9 1259.64,453.98 1259.98,454.06 1260.32,454.14 1260.66,454.22 1261,454.3 1261.35,454.31 1261.69,454.32 1262.03,454.33 1262.37,454.35 1262.71,454.36 1263.06,454.37 1263.4,454.38 1263.74,454.39 1264.08,454.4 1264.42,454.41 1264.77,454.43 1265.11,454.44 1265.45,454.45 1265.79,454.46 1266.13,454.47 1266.48,454.48 1266.82,454.49 1267.16,454.51 1267.5,454.52 1267.84,454.53 1268.19,454.54 1268.53,454.55 1268.87,454.56 1269.21,454.57 1269.55,454.59 1269.9,454.6 1270.24,454.61 1270.58,454.63 1270.92,454.64 1271.26,454.65 1271.61,454.67 1271.95,454.68 1272.29,454.7 1272.63,454.71 1272.97,454.73 1273.32,454.74 1273.66,454.76 1274,454.77 1274.34,454.79 1274.68,454.8 1275.03,454.82 1275.37,454.83 1275.71,454.85 1276.05,454.86 1276.39,454.88 1276.74,454.89 1277.08,454.91 1277.42,454.92 1277.76,454.94 1278.1,454.95 1278.45,454.96 1278.79,454.98 1279.13,454.99 1279.47,455.01 1279.81,455.02 1280.16,455.04 1280.5,455.05 1280.84,455.07 1281.18,455.08 1281.52,455.1 1281.87,455.11 1282.21,455.13 1282.55,455.14 1282.89,455.16 1283.23,455.17 1283.58,455.19 1283.8,455.2"/>
<path d="M1113,410.9 L1114.18,411.86 L1115.37,412.8 L1116.58,413.71 L1117.81,414.59 L1119.06,415.44 L1120.32,416.27 L1121.6,417.09 L1122.89,417.88 L1124.2,418.66 L1125.51,419.42 L1126.83,420.16 L1128.16,420.89 L1129.5,421.59 L1130.85,422.28 L1132.21,422.94 L1133.58,423.6 L1134.95,424.25 L1136.32,424.89 L1137.7,425.52 L1139.08,426.14 L1140.47,426.75 L1141.85,427.36 L1143.24,427.99 L1144.61,428.62 L1145.98,429.27 L1147.34,429.93 L1148.71,430.59 L1150.07,431.24 L1151.45,431.88 L1152.83,432.51 L1154.21,433.14 L1155.59,433.75 L1156.98,434.36 L1158.37,434.96 L1159.76,435.55 L1161.16,436.14 L1162.56,436.71 L1163.97,437.28 L1165.38,437.84 L1166.79,438.38 L1168.21,438.9 L1169.64,439.4 L1171.08,439.9 L1172.51,440.38 L1173.95,440.85 L1175.4,441.3 L1176.85,441.74 L1178.3,442.17 L1179.76,442.59 L1181.22,443 L1182.68,443.39 L1184.15,443.77 L1185.62,444.12 L1187.09,444.47 L1188.57,444.81 L1190.05,445.15 L1191.52,445.5 L1192.99,445.86 L1194.46,446.22 L1195.93,446.59 L1197.4,446.95 L1198.87,447.32 L1200.34,447.69 L1201.81,448.06 L1203.28,448.45 L1204.75,448.83 L1206.22,449.2 L1207.69,449.53 L1209.17,449.84 L1210.66,450.14 L1212.14,450.44 L1213.63,450.72 L1215.12,450.99 L1216.61,451.26 L1218.11,451.51 L1219.6,451.76 L1221.1,452 L1222.6,452.24 L1224.1,452.47 L1225.59,452.69 L1227.09,452.9 L1228.59,453.12 L1230.09,453.32 L1231.59,453.53 L1233.1,453.72 L1234.6,453.92 L1236.1,454.11 L1237.61,454.3 L1239.11,454.48 L1240.62,454.65 L1242.12,454.83 L1243.63,455 L1245.13,455.16 L1246.64,455.33 L1248.15,455.48 L1249.65,455.64 L1251.16,455.79 L1252.67,455.94 L1254.18,456.08 L1255.68,456.22 L1257.19,456.36 L1258.7,456.49 L1260.21,456.62 L1261.72,456.75 L1263.23,456.87 L1264.74,456.98 L1266.25,457.09 L1267.76,457.2 L1269.28,457.31 L1270.79,457.41 L1272.3,457.51 L1273.81,457.61 L1275.32,457.7 L1276.83,457.8 L1278.35,457.88 L1279.86,457.97 L1281.37,458.05 L1282.89,458.13 L1284.4,458.2" fill="none" stroke="#76c400" stroke-width="7.6" stroke-linecap="round" stroke-linejoin="round"/>
<text x="1048" y="384.5" font-size="29.6" text-anchor="end" >0.04</text>
<text x="1048" y="258.3" font-size="29.6" text-anchor="end" >0.06</text>
<text x="1048" y="132.1" font-size="29.6" text-anchor="end" >0.08</text>
<text x="1048" y="511.5" font-size="29.6" text-anchor="end" >0.02</text>
<text x="1078.83" y="540.7" font-size="29.6" text-anchor="middle" >0</text>
<text x="1181.1" y="540.7" font-size="29.6" text-anchor="middle" >300</text>
<text x="1283.37" y="540.7" font-size="29.6" text-anchor="middle" >600</text>
<text x="943.6" y="30.6" font-size="41" text-anchor="start" font-weight="bold">c</text>
<text transform="translate(968.9,280.8) rotate(-90)" font-size="29.6" text-anchor="middle">Current (mA)</text>
<text x="1179.6" y="582.6" font-size="29.6" text-anchor="middle" >Time (s)</text>
<text x="1137.6" y="114.7" font-size="25" text-anchor="start" >DC 0.1V</text>
<text x="1140.6" y="154.1" font-size="24.5" text-anchor="start" ><tspan font-style="italic">T</tspan> = 342 °C</text>
</g>
</svg></body></html>
